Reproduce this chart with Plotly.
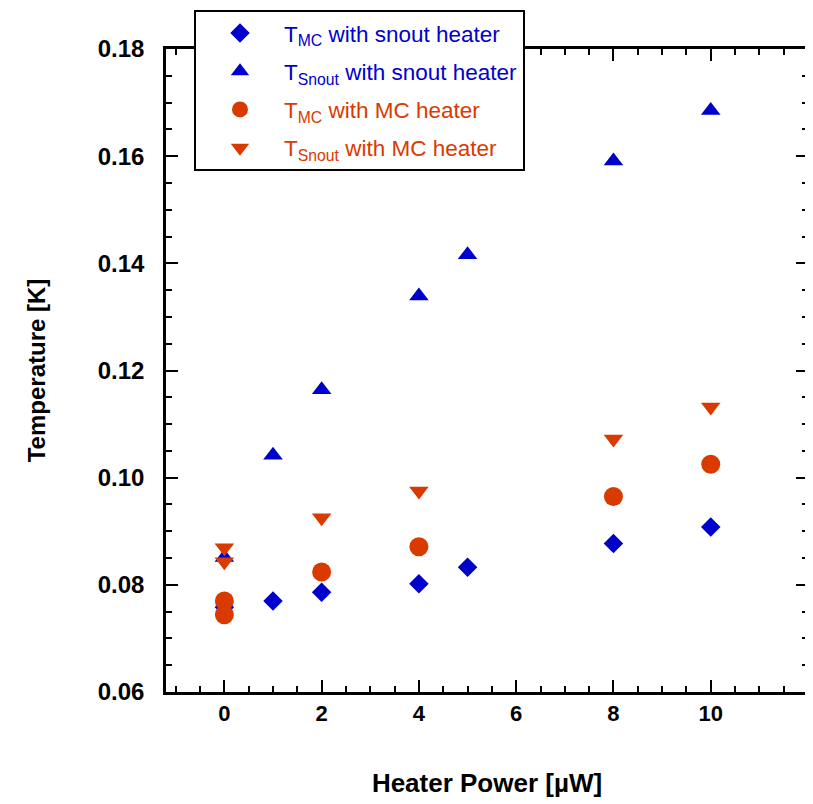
import plotly.graph_objects as go

BLUE = '#0000CC'
ORANGE = '#D93A00'

# heater power [uW]
power_snout = [0, 1, 2, 4, 5, 8, 10]
power_mc = [0, 0, 2, 4, 8, 10]

# temperatures [K]
tmc_snout_heater = [0.0758, 0.0770, 0.0786, 0.0802, 0.0833, 0.0877, 0.0908]
tsnout_snout_heater = [0.0851, 0.1042, 0.1164, 0.1339, 0.1416, 0.1591, 0.1685]
tmc_mc_heater = [0.0770, 0.0744, 0.0824, 0.0871, 0.0965, 0.1025]
tsnout_mc_heater = [0.0869, 0.0843, 0.0925, 0.0975, 0.1072, 0.1132]

x_ticks = [0, 2, 4, 6, 8, 10]
y_ticks = [0.06, 0.08, 0.10, 0.12, 0.14, 0.16, 0.18]
x_range = [-1.2, 12]
y_range = [0.06, 0.18]


def label(color, sub, rest):
    return f"<span style='color:{color}'>T<sub>{sub}</sub> {rest}</span>"


fig = go.Figure()
fig.add_trace(go.Scatter(x=power_snout, y=tmc_snout_heater, mode='markers',
                         name=label(BLUE, 'MC', 'with snout heater'), legendgroup='a',
                         marker=dict(symbol='diamond', size=15, color=BLUE)))
fig.add_trace(go.Scatter(x=power_snout, y=tsnout_snout_heater, mode='markers',
                         name=label(BLUE, 'Snout', 'with snout heater'), legendgroup='b',
                         marker=dict(symbol='triangle-up', size=17, color=BLUE)))
fig.add_trace(go.Scatter(x=power_mc, y=tmc_mc_heater, mode='markers',
                         name=label(ORANGE, 'MC', 'with MC heater'), legendgroup='c',
                         marker=dict(symbol='circle', size=19, color=ORANGE)))
fig.add_trace(go.Scatter(x=power_mc, y=tsnout_mc_heater, mode='markers',
                         name=label(ORANGE, 'Snout', 'with MC heater'), legendgroup='d',
                         marker=dict(symbol='triangle-down', size=17, color=ORANGE)))
# empty trace so the top/right axis copies get drawn
fig.add_trace(go.Scatter(x=[None], y=[None], xaxis='x2', yaxis='y2',
                         showlegend=False, hoverinfo='skip'))

tick_style = dict(showline=True, linecolor='black', linewidth=2.5,
                  ticks='inside', ticklen=12, tickwidth=2, tickcolor='black',
                  showgrid=False, zeroline=False)
x_minor = dict(dtick=0.5, tick0=0, ticks='inside', ticklen=6, tickwidth=2, tickcolor='black')
y_minor = dict(dtick=0.005, tick0=0.06, ticks='inside', ticklen=6, tickwidth=2, tickcolor='black')

# the page body has an 8px margin, so the figure is 8px smaller and margins shifted
fig.update_layout(
    xaxis=dict(range=x_range, tickvals=x_ticks, minor=x_minor, mirror=True,
               tickfont=dict(family='Liberation Sans', size=22, color='black', weight='bold'),
               title=dict(text='<b>Heater Power [µW]</b>', standoff=49,
                          font=dict(family='Liberation Sans', size=26, color='black')),
               **tick_style),
    yaxis=dict(range=y_range, tickvals=y_ticks, tickformat='.2f', minor=y_minor, mirror=True,
               ticklabelstandoff=14,
               tickfont=dict(family='Liberation Sans', size=24, color='black', weight='bold'),
               title=dict(text='<b>Temperature [K]</b>', standoff=46,
                          font=dict(family='Liberation Sans', size=24, color='black')),
               **tick_style),
    xaxis2=dict(range=x_range, tickvals=x_ticks, minor=x_minor, overlaying='x', side='top',
                anchor='y2', showticklabels=False, **tick_style),
    yaxis2=dict(range=y_range, tickvals=y_ticks, minor=y_minor, overlaying='y', side='right',
                anchor='x2', showticklabels=False, **tick_style),
    width=805, height=796,
    margin=dict(l=158, r=5, t=41, b=112, autoexpand=False),
    plot_bgcolor='white', paper_bgcolor='white',
    font=dict(family='Liberation Sans', color='black'),
    legend=dict(x=0.0436, y=1.061, xanchor='left', yanchor='top',
                bgcolor='white', bordercolor='black', borderwidth=2,
                font=dict(family='Liberation Sans', size=22.5),
                tracegroupgap=6, itemwidth=78),
)

fig.write_html('out.html')
